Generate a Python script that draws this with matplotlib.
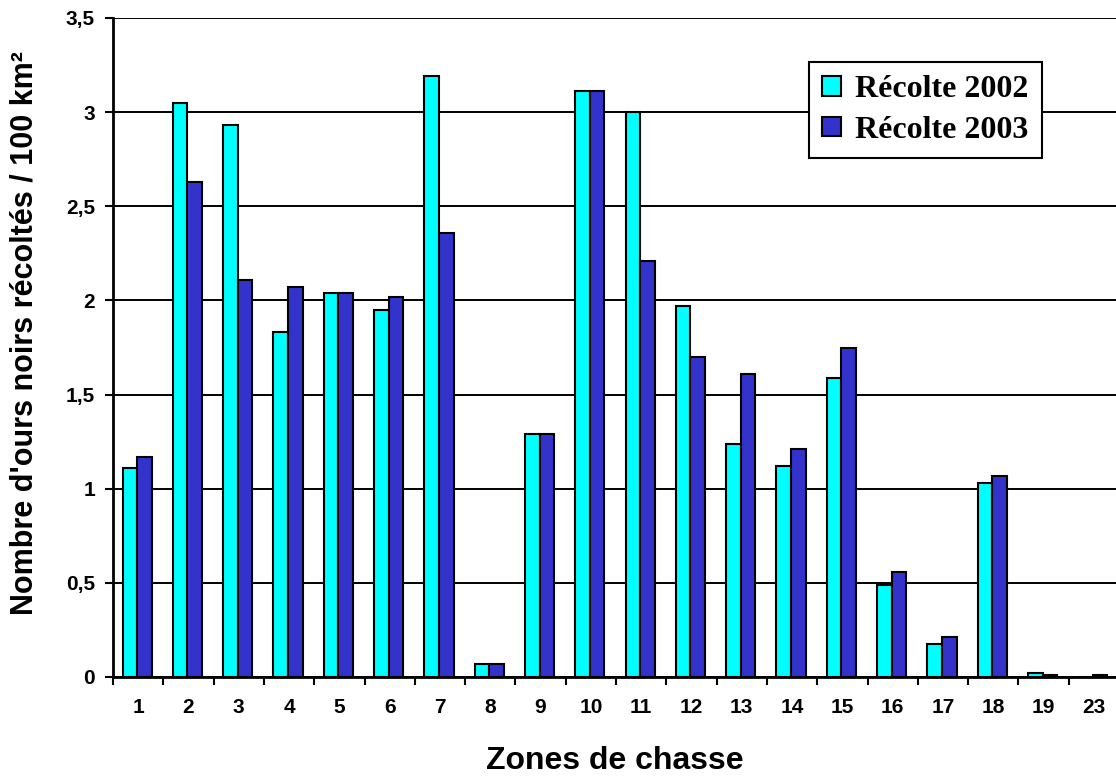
import numpy as np
import matplotlib.pyplot as plt

# Zones de chasse et récoltes (ours / 100 km²)
zones = ["1", "2", "3", "4", "5", "6", "7", "8", "9", "10",
         "11", "12", "13", "14", "15", "16", "17", "18", "19", "23"]
recolte_2002 = [1.11, 3.05, 2.93, 1.83, 2.04, 1.95, 3.19, 0.07, 1.29, 3.11,
                3.00, 1.97, 1.24, 1.12, 1.59, 0.49, 0.175, 1.03, 0.02, 0.0]
recolte_2003 = [1.17, 2.63, 2.11, 2.07, 2.04, 2.02, 2.36, 0.07, 1.29, 3.11,
                2.21, 1.70, 1.61, 1.21, 1.75, 0.56, 0.21, 1.07, 0.01, 0.01]

yticks = [0, 0.5, 1, 1.5, 2, 2.5, 3, 3.5]
ytick_labels = ["0", "0,5", "1", "1,5", "2", "2,5", "3", "3,5"]

plt.rcParams['font.family'] = ['Liberation Sans', 'DejaVu Sans']

fig = plt.figure(figsize=(11.16, 7.77), dpi=100)
ax = fig.add_axes([113 / 1116, 1 - 677 / 777, 1006 / 1116, 659 / 777])

x = np.arange(len(zones))
w = 0.29
ax.bar(x - w / 2 - 0.02, recolte_2002, w, color="#00FFFF", edgecolor="black",
       linewidth=1.5, label="Récolte 2002", zorder=3)
ax.bar(x + w / 2 - 0.02, recolte_2003, w, color="#3333CC", edgecolor="black",
       linewidth=1.5, label="Récolte 2003", zorder=3)

ax.set_xlim(-0.5, len(zones) - 0.5)
ax.set_ylim(0, 3.5)

# y axis
ax.set_yticks(yticks)
ax.set_yticklabels(ytick_labels, fontsize=15, fontweight="bold")
ax.tick_params(axis="y", length=6, width=1.5, pad=7, direction="out")
ax.yaxis.grid(True, color="black", linewidth=1.4, zorder=0)
ax.set_axisbelow(True)

# x axis: labels at centres, ticks at boundaries
ax.set_xticks(x)
ax.set_xticklabels(zones, fontsize=15, fontweight="bold")
ax.tick_params(axis="x", which="major", length=0, pad=15)
ax.set_xticks(np.arange(len(zones) + 1) - 0.5, minor=True)
ax.tick_params(axis="x", which="minor", length=6, width=1.5, direction="out")

for s in ["top", "right"]:
    ax.spines[s].set_visible(False)
for s in ["left", "bottom"]:
    ax.spines[s].set_linewidth(2)
    ax.spines[s].set_zorder(4)

ax.set_xlabel("Zones de chasse", fontsize=23, fontweight="bold")
ax.xaxis.set_label_coords((615 - 113) / 1006, (677 - 746) / 659)
ax.set_ylabel("Nombre d'ours noirs récoltés / 100 km²", fontsize=22,
              fontweight="bold")
ax.yaxis.set_label_coords((40 - 113) / 1006, (677 - 333) / 659)

leg = ax.legend(loc="upper right", bbox_to_anchor=(1042 / 1116, 1 - 62 / 777),
                bbox_transform=fig.transFigure,
                prop={"family": "Liberation Serif", "weight": "bold", "size": 23},
                frameon=True, fancybox=False, framealpha=1, edgecolor="black",
                handlelength=0.6, handleheight=0.56, handletextpad=0.44,
                borderpad=0.42, labelspacing=0.35, borderaxespad=0)
leg.get_frame().set_linewidth(1.5)

fig.savefig("out.png", dpi=100)
